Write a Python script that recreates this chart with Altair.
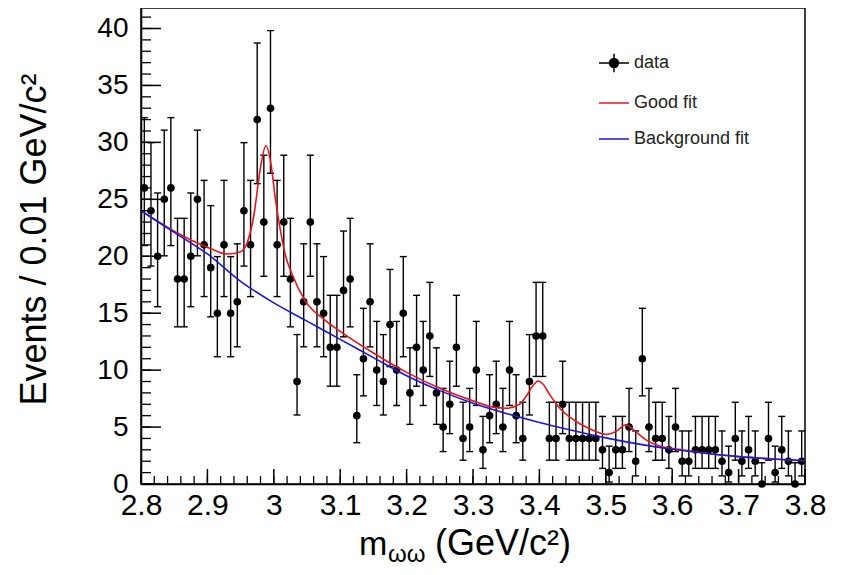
import altair as alt
import pandas as pd
import numpy as np

# ---- data ----
bin_lo, bin_hi, bin_w = 2.80, 3.80, 0.01
counts = [
    26, 24, 20, 25, 26, 18, 18, 20, 25, 21,
    19, 15, 21, 15, 16, 24, 21, 32, 23, 33,
    21, 23, 18, 9, 16, 23, 16, 15, 12, 12,
    17, 18, 6, 11, 16, 10, 9, 14, 10, 15,
    8, 12, 10, 13, 8, 5, 7, 12, 4, 5,
    10, 3, 6, 7, 5, 10, 6, 4, 9, 13,
    13, 4, 4, 7, 4, 4, 4, 4, 4, 3,
    1, 3, 3, 5, 2, 11, 5, 4, 4, 3,
    5, 2, 2, 3, 3, 3, 3, 2, 1, 4,
    2, 3, 2, 0, 4, 1, 3, 2, 0, 2,
]

bkg_x = [2.80, 2.85, 2.90, 2.95, 3.00, 3.05, 3.10, 3.15, 3.20, 3.25, 3.30,
         3.35, 3.40, 3.45, 3.50, 3.55, 3.60, 3.65, 3.70, 3.75, 3.80]
bkg_y = [24.0, 22.1, 20.2, 17.8, 15.9, 14.3, 12.7, 11.1, 9.5, 8.2, 7.1,
         6.2, 5.4, 4.7, 4.05, 3.5, 3.05, 2.7, 2.4, 2.2, 2.05]

fit_x = [2.80, 2.85, 2.88, 2.90, 2.93, 2.95, 2.96, 2.97, 2.98, 2.988, 2.996,
         3.002, 3.009, 3.017, 3.027, 3.047, 3.077, 3.10, 3.15, 3.20, 3.25,
         3.30, 3.33, 3.35, 3.37, 3.38, 3.39, 3.398, 3.405, 3.415, 3.43, 3.45,
         3.47, 3.49, 3.50, 3.515, 3.53, 3.545, 3.56, 3.58, 3.61, 3.65, 3.70,
         3.75, 3.80]
fit_y = [24.0, 22.2, 21.3, 20.8, 20.2, 20.4, 21.2, 23.6, 27.8, 29.7, 28.0,
         25.2, 22.6, 20.2, 18.5, 16.1, 14.4, 13.4, 11.5, 9.8, 8.4,
         7.3, 6.75, 6.65, 7.0, 7.7, 8.6, 9.05, 8.8, 7.9, 6.7, 5.7,
         5.0, 4.5, 4.35, 4.6, 5.2, 4.6, 3.9, 3.35, 3.05, 2.7, 2.4,
         2.2, 2.05]

x_tick_major = [2.8, 2.9, 3.0, 3.1, 3.2, 3.3, 3.4, 3.5, 3.6, 3.7, 3.8]
x_tick_minor = [round(2.8 + 0.02 * i, 2) for i in range(51)]
y_tick_major = [0, 5, 10, 15, 20, 25, 30, 35, 40]
y_tick_minor = list(range(0, 42))
series_names = ["data", "Good fit", "Background fit"]
fit_color = "#e8141c"
bkg_color = "#1818d8"

# ---- layout constants ----
W, H = 664, 476
Y_MAX = 41.8
X_PER_PX = (bin_hi - bin_lo) / W
Y_PER_PX = Y_MAX / H

# ---- tables ----
n = np.array(counts, dtype=float)
centers = bin_lo + bin_w * (np.arange(len(counts)) + 0.5)
safe = np.where(n > 0, n, 1.0)
err_lo = np.where(n > 0, safe * (1 - 1 / (9 * safe) - 1 / (3 * np.sqrt(safe))) ** 3, 0.0)
err_hi = n + np.sqrt(n + 0.75) + 1.0

df = pd.DataFrame({
    "m": centers, "n": n, "lo": err_lo, "hi": err_hi,
    "xl": centers - bin_w / 2, "xr": centers + bin_w / 2,
})
fit_df = pd.DataFrame({"m": fit_x, "v": fit_y})
bkg_df = pd.DataFrame({"m": bkg_x, "v": bkg_y})
legend_df = pd.DataFrame({"series": series_names})

# tick tables: tick value + the centre of an inward tick of the given pixel length
def xticks(vals, length_px):
    return pd.DataFrame({"xt": vals, "yc": 0.5 * length_px * Y_PER_PX})

def yticks(vals, length_px):
    return pd.DataFrame({"yt": vals, "xc": bin_lo + 0.5 * length_px * X_PER_PX})

FONT = "Liberation Sans"
xs = alt.Scale(domain=[bin_lo, bin_hi], nice=False, zero=False)
ys = alt.Scale(domain=[0, Y_MAX], nice=False)

# the same axis objects are given to every layer, so the merged axes agree
x_axis = alt.Axis(orient="bottom", values=x_tick_major, format=".1~f", title=None,
                  ticks=False, labelPadding=6, labelFontSize=30, labelFont=FONT,
                  labelColor="black", domainColor="black", domainWidth=1.5,
                  grid=False, labelFlush=False)
y_axis = alt.Axis(orient="left", values=y_tick_major, title="Events / 0.01 GeV/c²",
                  ticks=False, labelPadding=13, labelFontSize=28, labelFont=FONT,
                  labelColor="black", domainColor="black", domainWidth=1.5, grid=False,
                  titleFont=FONT, titleFontSize=36, titleFontWeight="normal",
                  titleColor="black", titleAngle=270, titleX=-96, titleY=231,
                  titleAlign="center", titleBaseline="alphabetic")


def X(field):
    return alt.X(field, type="quantitative", scale=xs, axis=x_axis)


def Y(field):
    return alt.Y(field, type="quantitative", scale=ys, axis=y_axis)


base = alt.Chart(df)

vbars = base.mark_rule(color="black", strokeWidth=1.4).encode(
    x=X("m"), y=Y("lo"), y2="hi:Q")
caps_hi = base.mark_tick(color="black", orient="horizontal", size=7, thickness=1.4,
                         opacity=1).encode(x=X("m"), y=Y("hi"))
caps_lo = base.transform_filter("datum.n > 0").mark_tick(
    color="black", orient="horizontal", size=7, thickness=1.4, opacity=1).encode(
    x=X("m"), y=Y("lo"))
hbars = base.mark_rule(color="black", strokeWidth=1.4).encode(
    x=X("xl"), x2="xr:Q", y=Y("n"))
points = base.mark_circle(size=58, opacity=1, color="black").encode(x=X("m"), y=Y("n"))
fit_line = alt.Chart(fit_df).mark_line(strokeWidth=1.6, interpolate="monotone",
                                       color=fit_color).encode(x=X("m"), y=Y("v"))
bkg_line = alt.Chart(bkg_df).mark_line(strokeWidth=1.6, interpolate="monotone",
                                       color=bkg_color).encode(x=X("m"), y=Y("v"))

# inward axis ticks (ROOT style)
xmaj = alt.Chart(xticks(x_tick_major, 15)).mark_tick(
    color="black", orient="vertical", size=15, thickness=1.5, opacity=1).encode(
    x=X("xt"), y=Y("yc"))
xmin = alt.Chart(xticks(x_tick_minor, 8)).mark_tick(
    color="black", orient="vertical", size=8, thickness=1.3, opacity=1).encode(
    x=X("xt"), y=Y("yc"))
ymaj = alt.Chart(yticks(y_tick_major, 20)).mark_tick(
    color="black", orient="horizontal", size=20, thickness=1.5, opacity=1).encode(
    x=X("xc"), y=Y("yt"))
ymin = alt.Chart(yticks(y_tick_minor, 10)).mark_tick(
    color="black", orient="horizontal", size=10, thickness=1.3, opacity=1).encode(
    x=X("xc"), y=Y("yt"))

# legend (inside the frame, top right)
data_symbol = "M-1,0H1M0,-0.62V0.62M-0.3,0A0.3,0.3 0 1,1 0.3,0A0.3,0.3 0 1,1 -0.3,0Z"
leg = alt.Legend(title=None, orient="none", legendX=457, legendY=39,
                 symbolSize=900, symbolStrokeWidth=1.5, symbolOpacity=1,
                 labelFont=FONT, labelFontSize=18, labelColor="#222", labelOffset=4,
                 rowPadding=11, labelLimit=300)
legend_layer = alt.Chart(legend_df).mark_point(opacity=0, size=10).encode(
    x=alt.value(-50), y=alt.value(-50),
    shape=alt.Shape("series:N", scale=alt.Scale(domain=series_names,
                    range=[data_symbol, "stroke", "stroke"]), legend=leg),
    stroke=alt.Stroke("series:N", scale=alt.Scale(domain=series_names,
                      range=["black", fit_color, bkg_color]), legend=leg),
    fill=alt.Fill("series:N", scale=alt.Scale(domain=series_names,
                  range=["black", "transparent", "transparent"]), legend=leg),
)

one = alt.Data(values=[{}])
title_m = alt.Chart(one).mark_text(text="m", font=FONT, fontSize=34, align="left",
                                   baseline="alphabetic", color="black").encode(
    x=alt.value(218), y=alt.value(547))
title_sub = alt.Chart(one).mark_text(text="ωω", font=FONT, fontSize=24, align="left",
                                     baseline="alphabetic", color="black").encode(
    x=alt.value(247), y=alt.value(554))
title_unit = alt.Chart(one).mark_text(text="(GeV/c²)", font=FONT, fontSize=36, align="left",
                                      baseline="alphabetic", color="black").encode(
    x=alt.value(294), y=alt.value(547))

chart = alt.layer(
    vbars, caps_hi, caps_lo, hbars, points, fit_line, bkg_line,
    xmaj, xmin, ymaj, ymin,
    legend_layer, title_m, title_sub, title_unit
).properties(
    width=W, height=H,
    padding={"left": 133, "top": 0, "right": 32, "bottom": 83},
    autosize="none",
).configure_view(stroke="black", strokeWidth=1.5)

chart.save("out.html", embed_options={"renderer": "svg", "actions": False})
